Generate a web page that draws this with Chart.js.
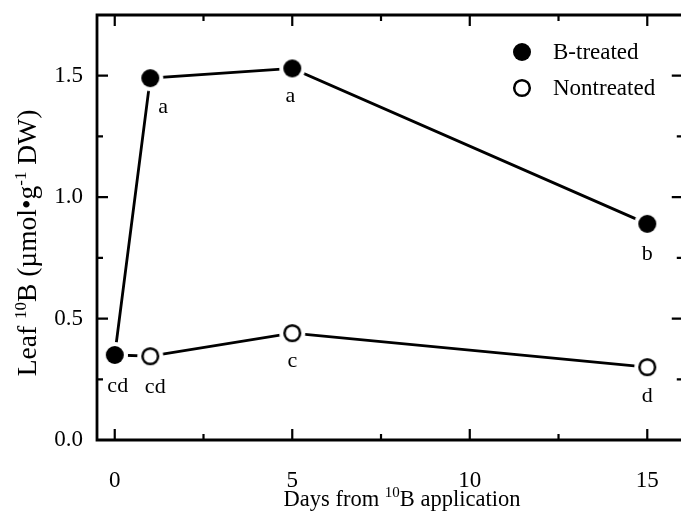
<!DOCTYPE html>
<html>
<head>
<meta charset="utf-8">
<script src="https://cdn.jsdelivr.net/npm/chart.js@4.4.0/dist/chart.umd.min.js"></script>
<style>
  html, body { margin: 0; padding: 0; background: #fff; overflow: hidden; }
  #chart-container { width: 681px; height: 513px; }
</style>
</head>
<body>
<div id="chart-container"><canvas id="my-chart" width="681" height="513"></canvas></div>
<script>
// data
var days = [0, 1, 5, 15];
var bTreated = [0.35, 1.49, 1.53, 0.89];
var nonTreated = [0.35, 0.345, 0.44, 0.30];
var bLetters = ['cd', 'a', 'a', 'b'];
var nLetters = ['', 'cd', 'c', 'd'];
var seriesNames = ['B-treated', 'Nontreated'];
var xTicks = [0, 5, 10, 15];
var xMinor = [2.5, 7.5, 12.5];
var yTicks = [0, 0.5, 1.0, 1.5];
var yMinor = [0.25, 0.75, 1.25];

var FONT = "'Liberation Serif', 'Times New Roman', serif";

// marker with a white halo so lines stop short of the symbol
function makeMarker(filled) {
    var c = document.createElement('canvas');
    c.width = 28; c.height = 28;
    var g = c.getContext('2d');
    g.fillStyle = '#fff';
    g.beginPath(); g.arc(14, 14, 13, 0, 2 * Math.PI); g.fill();
    g.beginPath();
    if (filled) {
        g.arc(14, 14, 9, 0, 2 * Math.PI);
        g.fillStyle = '#000'; g.fill();
    } else {
        g.arc(14, 14, 7.8, 0, 2 * Math.PI);
        g.lineWidth = 2.5; g.strokeStyle = '#000'; g.stroke();
    }
    return c;
}
var filledMarker = makeMarker(true);
var openMarker = makeMarker(false);

// letter offsets (dx, dy from point to text baseline)
var bLetterOffset = [[3, 37], [13, 35], [-2, 34], [0, 36]];
var nLetterOffset = [[0, 0], [5, 37], [0, 34], [0, 35]];

function drawRich(ctx, parts, x, y) {
    // parts: [text, size, raise], centred on x
    var total = 0;
    parts.forEach(function (p) { ctx.font = p[1] + 'px ' + FONT; total += ctx.measureText(p[0]).width; });
    var cx = x - total / 2;
    parts.forEach(function (p) {
        ctx.font = p[1] + 'px ' + FONT;
        ctx.fillText(p[0], cx, y - p[2]);
        cx += ctx.measureText(p[0]).width;
    });
}

var figurePlugin = {
    id: 'figure',
    afterDatasetsDraw: function (chart) {
        var ctx = chart.ctx;
        var a = chart.chartArea;
        var xs = chart.scales.x, ys = chart.scales.y;
        ctx.save();
        ctx.strokeStyle = '#000';
        ctx.fillStyle = '#000';
        // frame (right side runs off the page)
        ctx.lineWidth = 2.8;
        ctx.beginPath();
        ctx.moveTo(chart.width + 5, a.top);
        ctx.lineTo(a.left, a.top);
        ctx.lineTo(a.left, a.bottom);
        ctx.lineTo(chart.width + 5, a.bottom);
        ctx.stroke();
        // inward ticks
        var rightEdge = xs.getPixelForValue(16);
        ctx.lineWidth = 2.2;
        ctx.beginPath();
        function xt(v, len) {
            var p = xs.getPixelForValue(v);
            ctx.moveTo(p, a.bottom); ctx.lineTo(p, a.bottom - len);
            ctx.moveTo(p, a.top); ctx.lineTo(p, a.top + len);
        }
        function yt(v, len) {
            var p = ys.getPixelForValue(v);
            ctx.moveTo(a.left, p); ctx.lineTo(a.left + len, p);
            ctx.moveTo(rightEdge, p); ctx.lineTo(rightEdge - len, p);
        }
        xTicks.forEach(function (v) { xt(v, 11); });
        xMinor.forEach(function (v) { xt(v, 6); });
        yTicks.forEach(function (v) { yt(v, 11); });
        yMinor.forEach(function (v) { yt(v, 6); });
        ctx.stroke();

        // significance letters
        ctx.font = '22px ' + FONT;
        ctx.textAlign = 'center';
        ctx.textBaseline = 'alphabetic';
        days.forEach(function (d, i) {
            var px = xs.getPixelForValue(d);
            if (bLetters[i]) ctx.fillText(bLetters[i], px + bLetterOffset[i][0], ys.getPixelForValue(bTreated[i]) + bLetterOffset[i][1]);
            if (nLetters[i]) ctx.fillText(nLetters[i], px + nLetterOffset[i][0], ys.getPixelForValue(nonTreated[i]) + nLetterOffset[i][1]);
        });

        // legend
        ctx.textAlign = 'left';
        ctx.textBaseline = 'middle';
        ctx.font = '23px ' + FONT;
        ctx.drawImage(filledMarker, 522 - 14, 52 - 14);
        ctx.fillText(seriesNames[0], 553, 53);
        ctx.drawImage(openMarker, 522 - 14, 88 - 14);
        ctx.fillText(seriesNames[1], 553, 89);

        // axis titles
        ctx.textBaseline = 'alphabetic';
        drawRich(ctx, [['Days from ', 22.5, 0], ['10', 15, 9], ['B application', 22.5, 0]], 402, 506);
        ctx.translate(36, 243);
        ctx.rotate(-Math.PI / 2);
        drawRich(ctx, [['Leaf ', 27.5, 0], ['10', 17, 10], ['B (\u00b5mol\u2022g', 27.5, 0], ['-1', 17, 10], [' DW)', 27.5, 0]], 0, 0);
        ctx.restore();
    }
};

var ctx = document.getElementById('my-chart').getContext('2d');
var chart = new Chart(ctx, {
    type: 'line',
    data: {
        datasets: [{
            label: seriesNames[0],
            data: days.map(function (d, i) { return { x: d, y: bTreated[i] }; }),
            borderColor: '#000',
            borderWidth: 2.8,
            pointStyle: filledMarker,
            pointRadius: 9,
            tension: 0,
            fill: false
        }, {
            label: seriesNames[1],
            data: days.map(function (d, i) { return { x: d, y: nonTreated[i] }; }),
            borderColor: '#000',
            borderWidth: 2.8,
            pointStyle: openMarker,
            pointRadius: 9,
            tension: 0,
            fill: false
        }]
    },
    options: {
        responsive: false,
        animation: false,
        layout: { autoPadding: false, padding: { top: 15, right: 0, left: 0, bottom: 0 } },
        plugins: { legend: { display: false }, tooltip: { enabled: false } },
        scales: {
            x: {
                type: 'linear',
                min: -0.5, max: 15.95,
                grid: { display: false, drawTicks: false },
                border: { display: false },
                afterBuildTicks: function (s) { s.ticks = xTicks.map(function (v) { return { value: v }; }); },
                afterFit: function (s) { s.height = 73; s.paddingLeft = 0; s.paddingRight = 0; },
                ticks: { color: '#000', padding: 27, font: { family: FONT, size: 23 }, maxRotation: 0 }
            },
            y: {
                min: 0, max: 1.75,
                grid: { display: false, drawTicks: false },
                border: { display: false },
                afterBuildTicks: function (s) { s.ticks = yTicks.map(function (v) { return { value: v }; }); },
                afterFit: function (s) { s.width = 97; s.paddingTop = 0; s.paddingBottom = 0; },
                ticks: {
                    color: '#000', padding: 14, font: { family: FONT, size: 23 },
                    callback: function (v) { return v.toFixed(1); }
                }
            }
        }
    },
    plugins: [figurePlugin]
});
</script>
</body>
</html>
